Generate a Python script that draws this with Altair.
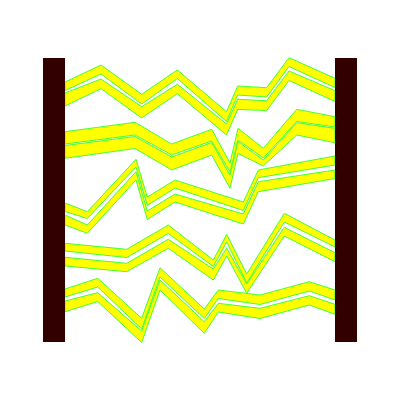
import altair as alt
import pandas as pd

# x positions of the vertices of each group of ribbons
g1_x = [65, 101, 141.7, 177.3, 226.5, 237.7, 266.7, 289, 335]
g2_x = [65, 135, 171.7, 211.7, 230, 238, 263.3, 296.7, 335]
g3_x = [65, 87.3, 136, 147.3, 175, 243.3, 258.3, 335]
g4_x = [65, 126.7, 168.3, 213.3, 226.7, 246.7, 284.3, 335]
g5_x = [65, 97.7, 141.7, 160, 204.3, 218.3, 260, 309.3, 335]

# top / bottom edges of each ribbon
a_top = [82, 65, 94.3, 70, 111.7, 86, 87.7, 57.7, 78.3]
a_bot = [90.5, 74, 104, 78.5, 121.5, 95, 97, 66.5, 87.5]
b_top = [93, 79, 106.7, 84.3, 124, 99.3, 100.7, 71, 90.7]
b_bot = [106, 88.7, 118, 93.7, 135, 109.5, 110.5, 80.5, 101.5]

c_top = [131.7, 122.3, 144, 129.3, 163, 128.3, 148.3, 109.3, 116.7]
c_bot = [144, 135, 155, 141, 172, 140, 158, 121.5, 127]
d_top = [145.5, 136.5, 157, 142.5, 175, 141.5, 160, 122.7, 128.3]
d_bot = [158.3, 148.5, 170, 155, 188.3, 153.5, 166, 135, 142.7]

e_top = [203, 211.7, 159.3, 197, 180, 202, 170, 156]
e_bot = [211.5, 218.5, 167, 205.5, 188, 210.5, 177.7, 165]
f_top = [215, 225, 171.7, 211, 194, 214, 181.7, 170]
f_bot = [225, 233.3, 180, 219.5, 202, 224, 191.7, 178.5]

g_top = [243.3, 249.3, 225, 260, 234.3, 274, 213.3, 240]
g_bot = [251, 257.5, 233.5, 266.5, 242, 283, 222, 247]
h_top = [257.3, 263.3, 239.3, 269, 248.3, 284, 227.3, 252.7]
h_bot = [266, 271.7, 248.3, 280, 256, 293.3, 236, 261.7]

i_top = [289, 278.3, 318.3, 267.7, 309, 290, 295, 281.7, 290]
i_bot = [297, 287, 329, 277, 318.5, 298.5, 304.5, 291, 300]
j_top = [301, 292.7, 331, 280, 321.7, 303.3, 308.3, 295.7, 304.3]
j_bot = [311.7, 301.5, 342.5, 290, 333.3, 312, 318.5, 305, 314.3]

# end posts
post_names = ["left", "right"]
post_x0 = [43, 335]
post_x1 = [65, 357]
post_y0 = [58, 58]
post_y1 = [342, 342]

bands = [
    ("A", g1_x, a_top, a_bot), ("B", g1_x, b_top, b_bot),
    ("C", g2_x, c_top, c_bot), ("D", g2_x, d_top, d_bot),
    ("E", g3_x, e_top, e_bot), ("F", g3_x, f_top, f_bot),
    ("G", g4_x, g_top, g_bot), ("H", g4_x, h_top, h_bot),
    ("I", g5_x, i_top, i_bot), ("J", g5_x, j_top, j_bot),
]
rows = []
for name, xs, tops, bots in bands:
    for x, t, b in zip(xs, tops, bots):
        rows.append({"band": name, "x": x, "top": t, "bottom": b})
df = pd.DataFrame(rows)

posts = pd.DataFrame({"name": post_names, "x0": post_x0, "x1": post_x1,
                      "y0": post_y0, "y1": post_y1})

xs = alt.Scale(domain=[0, 400], range=[0, 400])
ys = alt.Scale(domain=[0, 400], range=[0, 400])

ribbons = alt.Chart(df).mark_area(
    fill="#ffff00", stroke="#44ff33", strokeWidth=1, fillOpacity=1,
    orient="vertical"
).encode(
    x=alt.X("x:Q", scale=xs, axis=None),
    y=alt.Y("top:Q", scale=ys, axis=None),
    y2="bottom:Q",
    detail="band:N",
)

bars = alt.Chart(posts).mark_rect(color="#330000").encode(
    x=alt.X("x0:Q", scale=xs, axis=None),
    x2="x1:Q",
    y=alt.Y("y0:Q", scale=ys, axis=None),
    y2="y1:Q",
)

chart = alt.layer(ribbons, bars).properties(
    width=400, height=400, padding=0, autosize="none", background="white"
).configure_view(stroke=None)

chart.save("out.html", embed_options={"renderer": "svg", "actions": False})
